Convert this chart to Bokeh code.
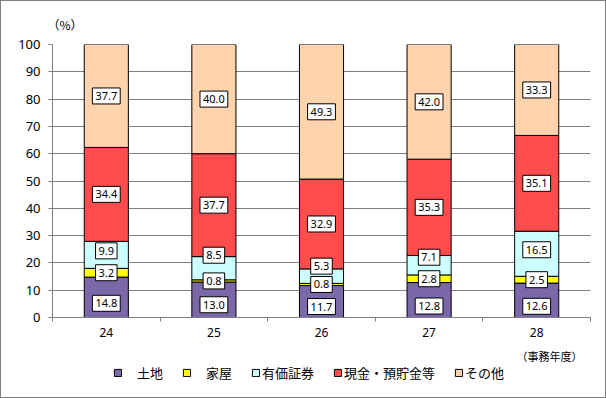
from bokeh.plotting import figure
from bokeh.layouts import column
from bokeh.models import (ColumnDataSource, Label, Legend, LegendItem, FixedTicker, Range1d)
from bokeh.embed import file_html
from bokeh.resources import INLINE

# ---- data ----
years = ["24", "25", "26", "27", "28"]
series = ["土地", "家屋", "有価証券", "現金・預貯金等", "その他"]
land = [14.8, 13.0, 11.7, 12.8, 12.6]
house = [3.2, 0.8, 0.8, 2.8, 2.5]
securities = [9.9, 8.5, 5.3, 7.1, 16.5]
cash = [34.4, 37.7, 32.9, 35.3, 35.1]
other = [37.7, 40.0, 49.3, 42.0, 33.3]
yticks = list(range(0, 101, 10))

# ---- style ----
colors = ["#7B68A8", "#FFFF00", "#CCFFFF", "#FF4C4C", "#FFD3AC"]
legend_labels = ["　" + series[0], "　" + series[1], series[2], series[3], series[4]]
label_nudge = [[-6, -5, -5, -6, -6],
               [0, 0, 0, 0, 0],
               [4, 13, 10, 8, 4],
               [0, 0, 0, 0, 0],
               [0, 0, 0, 0, 0]]
NUM_FONT = "Noto Sans"
JP_FONT = "Noto Sans CJK JP"
W = 604
BL, BR = 51, 15

keys = ["land", "house", "securities", "cash", "other"]
values = [land, house, securities, cash, other]
xs = list(range(len(years)))
src = ColumnDataSource(dict(x=xs, **{k: v for k, v in zip(keys, values)}))

p = figure(width=W, height=344, output_backend="svg", toolbar_location=None,
           x_range=Range1d(-0.5, len(years) - 0.5), y_range=Range1d(0, 100),
           min_border_left=BL, min_border_right=BR, min_border_top=43,
           min_border_bottom=28, title="（%）")
p.outline_line_color = None
p.title.text_font = JP_FONT
p.title.text_font_size = "12px"
p.title.text_font_style = "normal"
p.title.text_color = "black"
p.title.align = "left"
p.title.offset = -5
p.title.standoff = 23

renderers = p.vbar_stack(keys, x="x", width=0.41, source=src,
                         fill_color=colors, line_color="black", line_width=1)

p.xgrid.grid_line_color = None
p.ygrid.grid_line_color = "#808080"
p.ygrid.ticker = FixedTicker(ticks=yticks)

p.yaxis.ticker = FixedTicker(ticks=yticks)
p.yaxis.axis_line_color = "#808080"
p.yaxis.major_tick_line_color = "#808080"
p.yaxis.major_tick_out = 4
p.yaxis.major_tick_in = 0
p.yaxis.minor_tick_line_color = None
p.yaxis.major_label_standoff = 8
p.yaxis.major_label_text_font = NUM_FONT
p.yaxis.major_label_text_font_size = "13px"
p.yaxis.major_label_text_color = "#000000"

p.xaxis.ticker = FixedTicker(ticks=xs, minor_ticks=[i - 0.5 for i in range(len(years) + 1)])
p.xaxis.major_label_overrides = {i: y for i, y in zip(xs, years)}
p.xaxis.axis_line_color = "#808080"
p.xaxis.major_tick_line_color = None
p.xaxis.major_tick_out = 0
p.xaxis.major_tick_in = 0
p.xaxis.minor_tick_line_color = "#808080"
p.xaxis.minor_tick_out = 4
p.xaxis.minor_tick_in = 0
p.xaxis.major_label_standoff = 6
p.xaxis.major_label_text_font = NUM_FONT
p.xaxis.major_label_text_font_size = "12px"
p.xaxis.major_label_text_color = "#000000"

for si, vals in enumerate(values):
    for i, v in enumerate(vals):
        bottom = sum(values[k][i] for k in range(si))
        mid = bottom + v / 2.0
        p.add_layout(Label(x=xs[i], y=mid, text=f"{v:.1f}", text_align="center",
                           text_baseline="middle", y_offset=label_nudge[si][i],
                           text_font=NUM_FONT, text_font_size="11px", text_color="black",
                           background_fill_color="white", border_line_color="black",
                           border_line_width=1, padding=(3, 4)))

# ---- legend strip (frame aligned with the chart's frame; x in canvas px) ----
LH = 52
q = figure(width=W, height=LH, output_backend="svg", toolbar_location=None,
           x_range=Range1d(BL, W - BR), y_range=Range1d(0, LH),
           min_border_left=BL, min_border_right=BR, min_border_top=0, min_border_bottom=0,
           x_axis_location=None, y_axis_location=None)
q.outline_line_color = None
q.grid.visible = False

# legend proxies (placed off-screen, only their legend swatches are seen)
proxy = ColumnDataSource(dict(x=[-1000.0], top=[0.0]))
dummies = [q.vbar(x="x", top="top", width=1, source=proxy, fill_color=c, line_color="black")
           for c in colors]
items = [LegendItem(label=lab, renderers=[r]) for lab, r in zip(legend_labels, dummies)]
legend = Legend(items=items, orientation="horizontal", location=(112 - BL, 15),
                glyph_width=9, glyph_height=9, label_standoff=2, spacing=19,
                label_height=14, label_width=10,
                label_text_font=JP_FONT, label_text_font_size="13px",
                label_text_color="black", border_line_color=None,
                background_fill_alpha=0, padding=0, margin=0)
q.add_layout(legend)

q.add_layout(Label(x=581, y=42, text="（事務年度）", text_align="right",
                   text_baseline="middle", text_font=JP_FONT, text_font_size="11px",
                   text_color="black"))

layout = column(p, q, spacing=0, styles={"border": "1px solid #808080"})

open("out.html", "w").write(file_html(layout, INLINE))
